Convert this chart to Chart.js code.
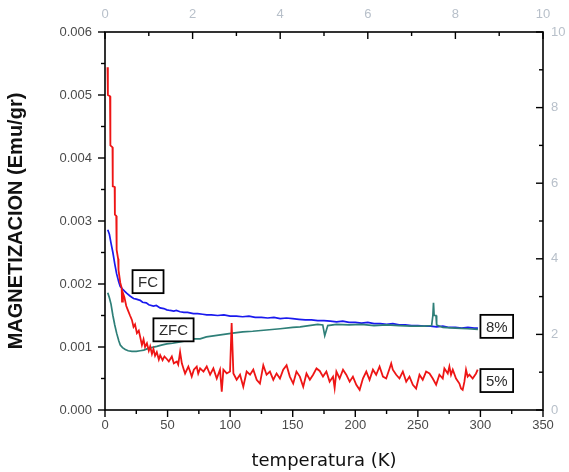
<!DOCTYPE html>
<html>
<head>
<meta charset="utf-8">
<script src="https://cdn.jsdelivr.net/npm/chart.js@4.4.1/dist/chart.umd.min.js"></script>
<style>
  body { margin: 0; background: #fff; }
</style>
</head>
<body>
<canvas id="magChart" width="569" height="472"></canvas>
<script>
// FC curve (8%)
const fcTemp = [2.2, 3.5, 4.8, 6.3, 7.8, 9.3, 11, 12.2, 14, 16, 17.5, 20, 22.8, 25, 28.1, 30, 33, 35, 38.7, 41, 44, 47, 49.4, 52, 55, 57, 60, 63, 66, 70.6, 74, 78, 81.3, 85, 90, 95, 100, 105, 110, 115, 120, 125, 130, 135, 140, 145, 150, 155, 160, 165, 170, 175, 180, 185, 190, 195, 200, 205, 210, 215, 220, 225, 230, 235, 240, 245, 250, 255, 260, 265, 270, 275, 280, 285, 290, 295, 298];
const fcMag = [0.00286, 0.00279, 0.00265, 0.00250, 0.00232, 0.00216, 0.00203, 0.00196, 0.00192, 0.00188, 0.00185, 0.00181, 0.00177, 0.00176, 0.00174, 0.00171, 0.00170, 0.00167, 0.00165, 0.00166, 0.00162, 0.00161, 0.00159, 0.00158, 0.00157, 0.00158, 0.00156, 0.00155, 0.00155, 0.00153, 0.00153, 0.00152, 0.00151, 0.00151, 0.00150, 0.00151, 0.00149, 0.00149, 0.00148, 0.00149, 0.00147, 0.00147, 0.00146, 0.00147, 0.00145, 0.00146, 0.00145, 0.00144, 0.00143, 0.00143, 0.00142, 0.00142, 0.00141, 0.00140, 0.00141, 0.00139, 0.00139, 0.00138, 0.00139, 0.00137, 0.00137, 0.00136, 0.00137, 0.00135, 0.00135, 0.00134, 0.00134, 0.00133, 0.00133, 0.00132, 0.00133, 0.00131, 0.00131, 0.00130, 0.00131, 0.00130, 0.00130];

// ZFC curve (8%)
const zfcTemp = [2.2, 3.5, 4.8, 6.3, 7.8, 9.3, 11, 12.2, 14, 16.2, 18.5, 21.5, 25, 28.1, 31, 33.5, 37, 41.4, 45, 49.4, 54, 60, 65, 70.4, 76, 81, 88, 95, 102, 110, 118, 129, 140, 150, 156, 163, 170, 174, 175.6, 178, 185, 195, 205, 215, 225, 235, 245, 255, 261, 262, 262.5, 263, 264.5, 265, 270, 280, 290, 298];
const zfcMag = [0.00186, 0.00178, 0.00168, 0.00150, 0.00135, 0.00122, 0.00110, 0.00103, 0.00099, 0.00096, 0.00094, 0.00093, 0.00093, 0.00094, 0.00095, 0.00097, 0.00099, 0.00101, 0.00103, 0.00105, 0.00106, 0.00108, 0.00110, 0.00113, 0.00113, 0.00116, 0.00118, 0.00120, 0.00122, 0.00124, 0.00125, 0.00127, 0.00129, 0.00131, 0.00132, 0.00134, 0.00136, 0.00135, 0.00118, 0.00134, 0.00136, 0.00135, 0.00136, 0.00134, 0.00135, 0.00134, 0.00133, 0.00133, 0.00134, 0.00150, 0.00170, 0.00150, 0.00150, 0.00135, 0.00131, 0.00130, 0.00129, 0.00128];

// 5% sample
const redTemp = [2.0, 2.3, 4.0, 4.3, 6.0, 6.2, 7.7, 7.9, 9.0, 9.3, 10.5, 10.8, 12.2, 13.3, 13.6, 14.3, 15.5, 17, 18.2, 20, 21.5, 22.8, 24, 25.5, 27, 28.1, 29.5, 30.8, 32, 33.5, 35, 36.1, 37.5, 38.7, 40, 41.4, 43, 44.1, 46, 47.5, 49.4, 51, 53.4, 55, 57.4, 58.5, 60, 61.4, 63, 64, 66.6, 68, 69.3, 71, 73.3, 74.5,
  76, 78.7, 81.3, 84, 86.6, 89.3, 91.9, 93.3, 94.6, 97.3, 99.9, 101.2, 102.6, 105.2, 107.9, 110.5, 113.2, 115.9, 118.5, 121.2, 123.8, 126.5, 129.1, 131.8, 134.5, 137.1, 139.8, 142.4, 145.1, 147.7, 150.4, 153, 155.7, 158.4, 161, 163.7, 166.3, 169,
  171.6, 174.2, 176.9, 179.5, 182.2, 183.5, 184.9, 187.5, 190.2, 192.8, 195.5, 198.1, 200.8, 203.5, 206.1, 208.8, 211.4, 214.1, 216.7, 219.4, 222.1, 224.7, 227.4, 228.7, 230, 232.7, 235.3, 238, 240.7, 243.3, 246, 248.6, 251.3, 253.9, 256.6,
  259.3, 261.9, 264.6, 267.2, 269.9, 271.2, 273.9, 275.2, 276.5, 277.9, 280.5, 283.2, 284.5, 285.8, 287.2, 288.5, 289.8, 291.2, 293.8, 296.5, 297.8];
const redMag = [0.00544, 0.00500, 0.00498, 0.00420, 0.00417, 0.00355, 0.00354, 0.00310, 0.00308, 0.00254, 0.00240, 0.00222, 0.00202, 0.00194, 0.00172, 0.00186, 0.00179, 0.00165, 0.00159, 0.00150, 0.00143, 0.00132, 0.00136, 0.00122, 0.00126, 0.00116, 0.00103, 0.00112, 0.00100, 0.00106, 0.00094, 0.00101, 0.00089, 0.00097, 0.00086, 0.00092, 0.00080, 0.00087, 0.00079, 0.00085, 0.00081, 0.00077, 0.00085, 0.00074, 0.00077, 0.00072, 0.00092, 0.00074, 0.00064, 0.00058, 0.00069, 0.00061, 0.00053, 0.00064, 0.00069, 0.00058,
  0.00066, 0.00061, 0.00069, 0.00056, 0.00066, 0.00050, 0.00064, 0.00029, 0.00064, 0.00058, 0.00061, 0.00138, 0.00058, 0.00048, 0.00056, 0.00037, 0.00061, 0.00056, 0.00064, 0.00048, 0.00042, 0.00071, 0.00056, 0.00061, 0.00048, 0.00058, 0.00050, 0.00064, 0.00071, 0.00053, 0.00042, 0.00061, 0.00053, 0.00037, 0.00058, 0.00048, 0.00056, 0.00066,
  0.00062, 0.00053, 0.00061, 0.00045, 0.00053, 0.00035, 0.00061, 0.00050, 0.00064, 0.00056, 0.00045, 0.00053, 0.00040, 0.00032, 0.00050, 0.00061, 0.00048, 0.00064, 0.00056, 0.00069, 0.00053, 0.00050, 0.00066, 0.00074, 0.00064, 0.00056, 0.00050, 0.00061, 0.00045, 0.00053, 0.00040, 0.00034, 0.00056, 0.00048, 0.00061,
  0.00058, 0.00050, 0.00040, 0.00056, 0.00050, 0.00066, 0.00058, 0.00069, 0.00056, 0.00064, 0.00050, 0.00042, 0.00034, 0.00032, 0.00045, 0.00064, 0.00053, 0.00056, 0.00050, 0.00058, 0.00064];

// tick positions
const tempTicks = [0, 50, 100, 150, 200, 250, 300, 350];
const magTicks = [0, 0.001, 0.002, 0.003, 0.004, 0.005, 0.006];
const auxTicks = [0, 2, 4, 6, 8, 10];

const labels = [
  { text: 'FC', t: 22, m: 0.00222 },
  { text: 'ZFC', t: 38.7, m: 0.001455 },
  { text: '8%', t: 300, m: 0.00151 },
  { text: '5%', t: 300, m: 0.00065 }
];

const toPoints = (xs, ys) => xs.map((x, i) => ({ x: x, y: ys[i] }));

// frame, tick marks (left/bottom outward, top/right inward) and boxed labels
const frameAndMarks = {
  id: 'frameAndMarks',
  afterDraw(chart) {
    const { ctx, chartArea: a, scales } = chart;
    ctx.save();
    ctx.strokeStyle = '#000';
    ctx.lineWidth = 1.6;
    ctx.strokeRect(a.left, a.top, a.right - a.left, a.bottom - a.top);

    ctx.lineWidth = 1.4;
    const line = (x1, y1, x2, y2) => {
      ctx.beginPath(); ctx.moveTo(x1, y1); ctx.lineTo(x2, y2); ctx.stroke();
    };
    // left
    for (let v = 0; v <= 0.0060001; v += 0.0005) {
      const p = scales.y.getPixelForValue(v);
      const major = Math.abs(v / 0.001 - Math.round(v / 0.001)) < 0.01;
      line(a.left - (major ? 7 : 4), p, a.left, p);
    }
    // bottom
    for (let v = 0; v <= 350; v += 25) {
      const p = scales.x.getPixelForValue(v);
      line(p, a.bottom, p, a.bottom + (v % 50 === 0 ? 7 : 4));
    }
    // top and right (inside)
    for (let v = 0; v <= 10; v += 1) {
      const px = scales.x2.getPixelForValue(v);
      line(px, a.top, px, a.top + (v % 2 === 0 ? 7 : 4));
      const py = scales.y2.getPixelForValue(v);
      line(a.right - (v % 2 === 0 ? 7 : 4), py, a.right, py);
    }

    ctx.font = '15px "Liberation Sans", Arial, sans-serif';
    ctx.textBaseline = 'middle';
    ctx.textAlign = 'center';
    labels.forEach(l => {
      const x = scales.x.getPixelForValue(l.t);
      const y = scales.y.getPixelForValue(l.m);
      const w = ctx.measureText(l.text).width + 11;
      const h = 23;
      ctx.fillStyle = '#fff';
      ctx.fillRect(x, y, w, h);
      ctx.lineWidth = 1.8;
      ctx.strokeRect(x, y, w, h);
      ctx.fillStyle = '#2b2b2b';
      ctx.fillText(l.text, x + w / 2, y + h / 2 + 1);
    });
    ctx.restore();
  }
};

const tickFont = { family: '"Liberation Sans", Arial, sans-serif', size: 13 };

const ctx = document.getElementById('magChart').getContext('2d');
new Chart(ctx, {
  type: 'scatter',
  data: {
    datasets: [
      { label: '5%', data: toPoints(redTemp, redMag), borderColor: '#ee1515', borderWidth: 1.8, showLine: true, pointRadius: 0, xAxisID: 'x', yAxisID: 'y' },
      { label: 'ZFC', data: toPoints(zfcTemp, zfcMag), borderColor: '#2e7f78', borderWidth: 1.7, showLine: true, pointRadius: 0, xAxisID: 'x', yAxisID: 'y' },
      { label: 'FC', data: toPoints(fcTemp, fcMag), borderColor: '#1a1aee', borderWidth: 1.7, showLine: true, pointRadius: 0, xAxisID: 'x', yAxisID: 'y' }
    ]
  },
  options: {
    responsive: false,
    animation: false,
    layout: { padding: 0 },
    plugins: { legend: { display: false }, tooltip: { enabled: false } },
    scales: {
      x: {
        type: 'linear', position: 'bottom', min: 0, max: 350,
        afterBuildTicks: s => { s.ticks = tempTicks.map(v => ({ value: v })); },
        ticks: { color: '#4a4a4a', font: tickFont, padding: 0, maxRotation: 0 },
        grid: { display: false }, border: { display: false },
        title: { display: true, text: 'temperatura (K)', color: '#111', font: { family: '"DejaVu Sans", sans-serif', size: 18 }, padding: { top: 0, bottom: 0 } },
        afterFit: s => { s.height = 62; }
      },
      x2: {
        type: 'linear', position: 'top', min: 0, max: 10,
        afterBuildTicks: s => { s.ticks = auxTicks.map(v => ({ value: v })); },
        ticks: { color: '#b8c0ca', font: tickFont, padding: 2, maxRotation: 0 },
        grid: { display: false }, border: { display: false },
        afterFit: s => { s.height = 32; }
      },
      y: {
        type: 'linear', position: 'left', min: 0, max: 0.006,
        afterBuildTicks: s => { s.ticks = magTicks.map(v => ({ value: v })); },
        ticks: { color: '#4a4a4a', font: tickFont, padding: 5, callback: v => v.toFixed(3) },
        grid: { display: false }, border: { display: false },
        title: { display: true, text: 'MAGNETIZACION (Emu/gr)', color: '#111', font: { family: '"Liberation Sans", Arial, sans-serif', size: 20, weight: 'bold' }, padding: { top: 4, bottom: 0 } },
        afterFit: s => { s.width = 105; }
      },
      y2: {
        type: 'linear', position: 'right', min: 0, max: 10,
        afterBuildTicks: s => { s.ticks = auxTicks.map(v => ({ value: v })); },
        ticks: { color: '#b8c0ca', font: tickFont, padding: 0 },
        grid: { display: false }, border: { display: false },
        afterFit: s => { s.width = 26; }
      }
    }
  },
  plugins: [frameAndMarks]
});
</script>
</body>
</html>
